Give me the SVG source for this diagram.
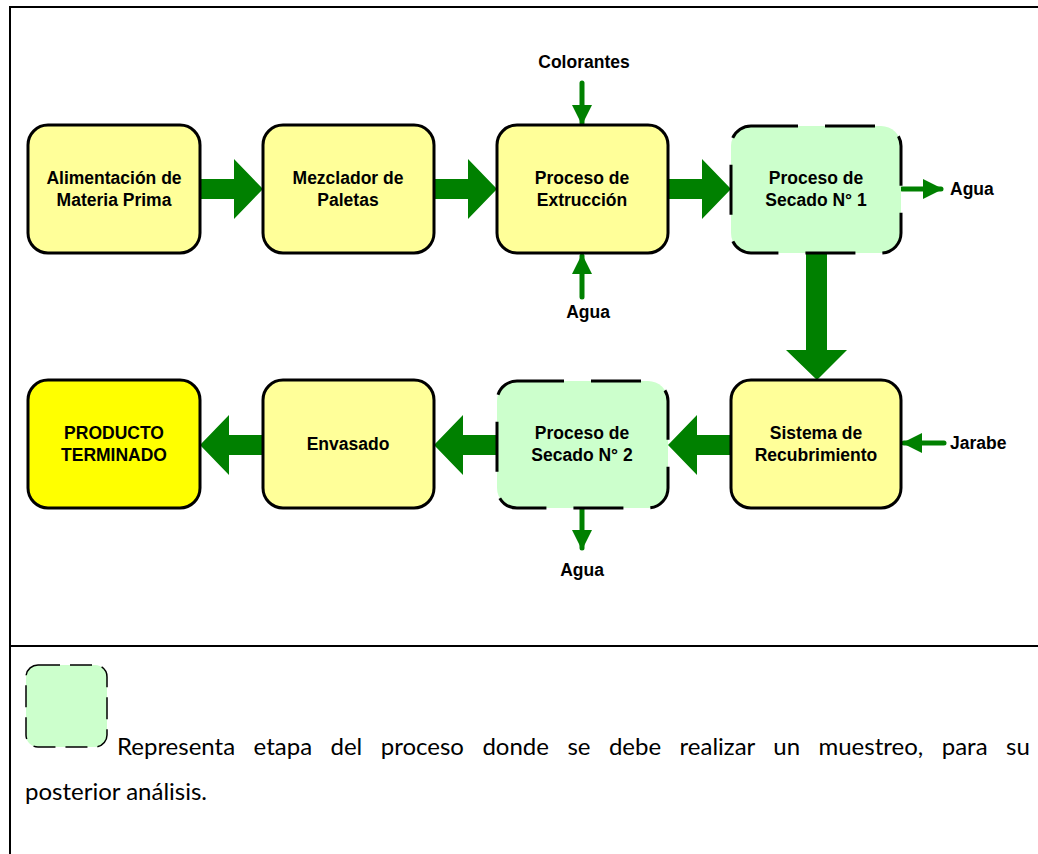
<svg xmlns="http://www.w3.org/2000/svg" width="1038" height="854" viewBox="0 0 1038 854">
  <style>
    .box { stroke: #000; stroke-width: 3; }
    .std { fill: #FFFF99; }
    .final { fill: #FFFF00; }
    .sample { fill: #CCFFCC; stroke: #000; stroke-width: 3; stroke-dasharray: 50 27; }
    .lbl { font-family: "Liberation Sans", Arial, sans-serif; font-weight: bold; font-size: 17.5px; fill: #000; text-anchor: middle; }
    .side { font-family: "Liberation Sans", Arial, sans-serif; font-weight: bold; font-size: 17.5px; fill: #000; }
    .flow { fill: #008000; }
    .feed { stroke: #008000; stroke-width: 5; stroke-linecap: round; fill: none; }
    .frame { stroke: #000; stroke-width: 2; fill: none; }
    .note { font-family: Lato, "Open Sans", sans-serif; font-size: 24px; fill: #000; }
  </style>
  <defs>
    <marker id="tip" markerWidth="4" markerHeight="4" refX="3.6" refY="2" orient="auto" markerUnits="strokeWidth">
      <path d="M0,0 L4,2 L0,4 Z" fill="#008000"/>
    </marker>
  </defs>

  <rect width="1038" height="854" fill="#fff"/>

  <!-- outer frame and divider -->
  <g id="frame">
    <path class="frame" d="M10,854 V7 H1038"/>
    <path class="frame" d="M10,646 H1038"/>
  </g>

  <!-- process flow -->
  <g id="connectors">
    <polygon class="flow" points="200,179 234,179 234,159 263,189 234,219 234,199 200,199"/>
    <polygon class="flow" points="434,179 468,179 468,159 497,189 468,219 468,199 434,199"/>
    <polygon class="flow" points="668,179 702,179 702,159 731,189 702,219 702,199 668,199"/>
    <polygon class="flow" points="806,253 827,253 827,350 847,350 817,380 786,350 806,350"/>
    <polygon class="flow" points="731,435 697,435 697,415 668,445 697,475 697,455 731,455"/>
    <polygon class="flow" points="497,435 463,435 463,415 434,445 463,475 463,455 497,455"/>
    <polygon class="flow" points="263,435 229,435 229,415 200,445 229,475 229,455 263,455"/>
    <!-- side streams -->
    <line class="feed" x1="582" y1="83" x2="582" y2="123" marker-end="url(#tip)"/>
    <line class="feed" x1="582" y1="297" x2="582" y2="256" marker-end="url(#tip)"/>
    <line class="feed" x1="902" y1="189" x2="941" y2="189" marker-end="url(#tip)"/>
    <line class="feed" x1="944" y1="443" x2="904" y2="443" marker-end="url(#tip)"/>
    <line class="feed" x1="582" y1="509" x2="582" y2="548" marker-end="url(#tip)"/>
  </g>

  <g id="alimentacion">
    <rect class="box std" x="28" y="125" width="172" height="128" rx="20"/>
    <text class="lbl" x="114" y="184">Alimentación de</text>
    <text class="lbl" x="114" y="206">Materia Prima</text>
  </g>
  <g id="mezclador">
    <rect class="box std" x="263" y="125" width="171" height="128" rx="20"/>
    <text class="lbl" x="348" y="184">Mezclador de</text>
    <text class="lbl" x="348" y="206">Paletas</text>
  </g>
  <g id="extrusion">
    <rect class="box std" x="497" y="125" width="171" height="128" rx="20"/>
    <text class="lbl" x="582" y="184">Proceso de</text>
    <text class="lbl" x="582" y="206">Extrucción</text>
  </g>
  <g id="secado1">
    <rect class="sample" x="731" y="126" width="170" height="127" rx="20" stroke-dashoffset="3"/>
    <text class="lbl" x="816" y="184">Proceso de</text>
    <text class="lbl" x="816" y="206">Secado N° 1</text>
  </g>
  <g id="recubrimiento">
    <rect class="box std" x="731" y="380" width="170" height="128" rx="20"/>
    <text class="lbl" x="816" y="439">Sistema de</text>
    <text class="lbl" x="816" y="461">Recubrimiento</text>
  </g>
  <g id="secado2">
    <rect class="sample" x="497" y="381" width="171" height="127" rx="20" stroke-dashoffset="3"/>
    <text class="lbl" x="582" y="439">Proceso de</text>
    <text class="lbl" x="582" y="461">Secado N° 2</text>
  </g>
  <g id="envasado">
    <rect class="box std" x="263" y="380" width="171" height="128" rx="20"/>
    <text class="lbl" x="348" y="450">Envasado</text>
  </g>
  <g id="producto">
    <rect class="box final" x="28" y="380" width="172" height="128" rx="20"/>
    <text class="lbl" x="114" y="439">PRODUCTO</text>
    <text class="lbl" x="114" y="461">TERMINADO</text>
  </g>

  <!-- stream labels -->
  <g id="labels">
    <text class="lbl" x="584" y="68">Colorantes</text>
    <text class="lbl" x="588" y="318">Agua</text>
    <text class="side" x="950" y="195">Agua</text>
    <text class="side" x="950" y="449">Jarabe</text>
    <text class="lbl" x="582" y="576">Agua</text>
  </g>

  <!-- legend -->
  <g id="legend">
    <rect x="26" y="665" width="81" height="82" rx="12" fill="#CCFFCC" stroke="#000" stroke-width="1.5" stroke-dasharray="22 10"/>
    <text class="note" x="117" y="755" word-spacing="12.3">Representa etapa del proceso donde se debe realizar un muestreo, para su</text>
    <text class="note" x="25" y="800">posterior análisis.</text>
  </g>
</svg>
